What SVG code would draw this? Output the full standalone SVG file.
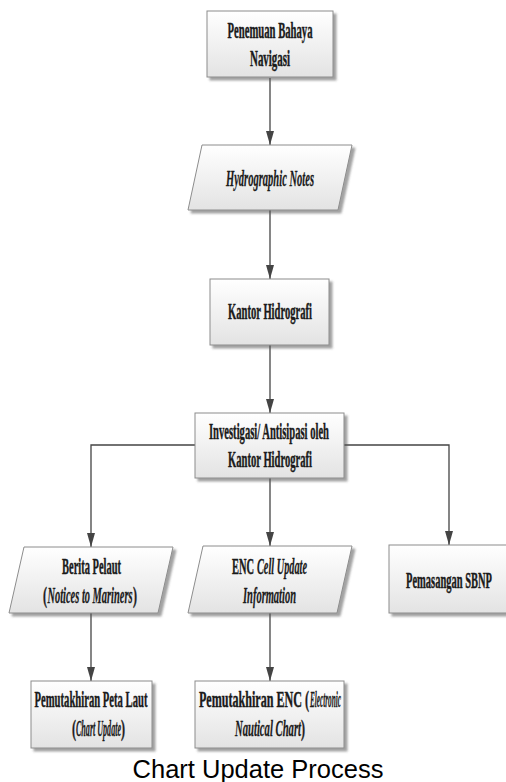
<svg xmlns="http://www.w3.org/2000/svg" width="506" height="782" viewBox="0 0 506 782">
<style>
.box{fill:url(#g);stroke:#8c8c8c;stroke-width:1;filter:url(#sh)}
.t{font-family:"Liberation Serif","Times New Roman",serif;font-size:23px;font-weight:bold;fill:#1a1a1a;stroke:#1a1a1a;stroke-width:0.45;text-anchor:middle}
.s{text-anchor:start}
.i{font-style:italic;stroke-width:0.3}
.c{fill:none;stroke:#444;stroke-width:1.3}
.cap{font-family:"Liberation Sans",Arial,sans-serif;font-size:25.5px;fill:#000;text-anchor:middle}
</style>
<defs>
<linearGradient id="g" x1="0" y1="0" x2="0" y2="1">
<stop offset="0" stop-color="#ffffff"/>
<stop offset="1" stop-color="#e3e3e3"/>
</linearGradient>
<filter id="sh" x="-10%" y="-10%" width="130%" height="140%">
<feDropShadow dx="3" dy="3" stdDeviation="1.2" flood-color="#555" flood-opacity="0.55"/>
</filter>
<marker id="a" viewBox="0 0 14 8" refX="14" refY="4" markerWidth="14" markerHeight="8" orient="auto" markerUnits="userSpaceOnUse">
<path d="M0,0 L14,4 L0,8 Z" fill="#444"/>
</marker>
</defs>

<g id="connectors">
<line class="c" x1="270" y1="78" x2="270" y2="145" marker-end="url(#a)"/>
<line class="c" x1="270" y1="210" x2="270" y2="279" marker-end="url(#a)"/>
<line class="c" x1="270" y1="345" x2="270" y2="413" marker-end="url(#a)"/>
<polyline class="c" points="195,445 91,445 91,547" marker-end="url(#a)"/>
<line class="c" x1="270" y1="478" x2="270" y2="546" marker-end="url(#a)"/>
<polyline class="c" points="344,445 449,445 449,545" marker-end="url(#a)"/>
<line class="c" x1="91" y1="613" x2="91" y2="681" marker-end="url(#a)"/>
<line class="c" x1="270" y1="613" x2="270" y2="681" marker-end="url(#a)"/>
</g>

<g id="n1">
<rect class="box" x="207" y="11" width="126" height="66"/>
<text class="t" x="270" y="38" textLength="85" lengthAdjust="spacingAndGlyphs">Penemuan Bahaya</text>
<text class="t" x="270" y="66" textLength="40" lengthAdjust="spacingAndGlyphs">Navigasi</text>
</g>

<g id="n2">
<polygon class="box" points="202,145 352,145 338,210 188,210"/>
<text class="t i" x="270" y="186" textLength="88" lengthAdjust="spacingAndGlyphs">Hydrographic Notes</text>
</g>

<g id="n3">
<rect class="box" x="210" y="279" width="119" height="66"/>
<text class="t" x="270" y="319" textLength="84" lengthAdjust="spacingAndGlyphs">Kantor Hidrografi</text>
</g>

<g id="n4">
<rect class="box" x="195" y="413" width="149" height="65"/>
<text class="t" x="269" y="439" textLength="120" lengthAdjust="spacingAndGlyphs">Investigasi/ Antisipasi oleh</text>
<text class="t" x="270" y="467" textLength="84" lengthAdjust="spacingAndGlyphs">Kantor Hidrografi</text>
</g>

<g id="n5">
<polygon class="box" points="24,547 173,547 158,613 9,613"/>
<text class="t" x="91.5" y="574" textLength="59" lengthAdjust="spacingAndGlyphs">Berita Pelaut</text>
<text class="t s" x="43" y="603" textLength="4" lengthAdjust="spacingAndGlyphs">(</text>
<text class="t s i" x="47.5" y="603" textLength="85" lengthAdjust="spacingAndGlyphs">Notices to Mariners</text>
<text class="t s" x="133" y="603" textLength="4" lengthAdjust="spacingAndGlyphs">)</text>
</g>

<g id="n6">
<polygon class="box" points="203,546 352,546 337,613 188,613"/>
<text class="t s" x="232" y="574" textLength="22" lengthAdjust="spacingAndGlyphs">ENC</text>
<text class="t s i" x="257" y="574" textLength="50" lengthAdjust="spacingAndGlyphs">Cell Update</text>
<text class="t i" x="269.5" y="603" textLength="53" lengthAdjust="spacingAndGlyphs">Information</text>
</g>

<g id="n7">
<rect class="box" x="389" y="545" width="120" height="68"/>
<text class="t" x="449" y="588" textLength="86" lengthAdjust="spacingAndGlyphs">Pemasangan SBNP</text>
</g>

<g id="n8">
<rect class="box" x="31" y="681" width="121" height="67"/>
<text class="t" x="91" y="707" textLength="113" lengthAdjust="spacingAndGlyphs">Pemutakhiran Peta Laut</text>
<text class="t s" x="72" y="736" textLength="4" lengthAdjust="spacingAndGlyphs">(</text>
<text class="t s i" x="76" y="736" textLength="45" lengthAdjust="spacingAndGlyphs">Chart Update</text>
<text class="t s" x="121" y="736" textLength="4" lengthAdjust="spacingAndGlyphs">)</text>
</g>

<g id="n9">
<rect class="box" x="195" y="681" width="149" height="67"/>
<text class="t s" x="199" y="707" textLength="110" lengthAdjust="spacingAndGlyphs">Pemutakhiran ENC (</text>
<text class="t s i" x="310" y="707" textLength="31" lengthAdjust="spacingAndGlyphs">Electronic</text>
<text class="t s i" x="235" y="736" textLength="66" lengthAdjust="spacingAndGlyphs">Nautical Chart</text>
<text class="t s" x="301" y="736" textLength="4" lengthAdjust="spacingAndGlyphs">)</text>
</g>

<text class="cap" x="258" y="778">Chart Update Process</text>
</svg>
